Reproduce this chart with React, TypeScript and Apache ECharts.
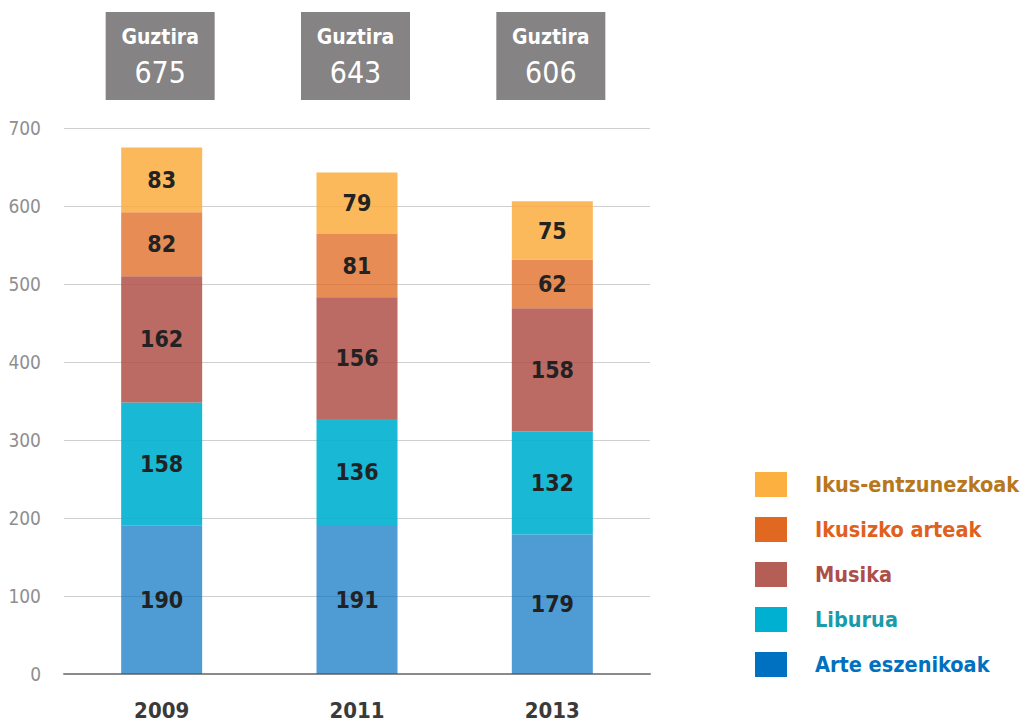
import React, { useEffect, useRef } from "react";
import * as echarts from "echarts";

const years = ["2009", "2011", "2013"];
const arteEszenikoak = [190, 191, 179];
const liburua = [158, 136, 132];
const musika = [162, 156, 158];
const ikusizkoArteak = [82, 81, 62];
const ikusEntzunezkoak = [83, 79, 75];
const totals = [675, 643, 606];
const yTicks = [0, 100, 200, 300, 400, 500, 600, 700];

const FONT = "'Liberation Sans Narrow', 'DejaVu Sans Condensed', 'Roboto', sans-serif";

const seriesDefs = [
  { name: "Arte eszenikoak", data: arteEszenikoak, bar: "rgba(0,112,192,0.69)", color: "#0070c0", text: "#0070c0" },
  { name: "Liburua", data: liburua, bar: "rgba(0,176,208,0.9)", color: "#00b0d0", text: "#1a9aaa" },
  { name: "Musika", data: musika, bar: "rgba(176,82,74,0.86)", color: "#b55e55", text: "#ad4e48" },
  { name: "Ikusizko arteak", data: ikusizkoArteak, bar: "rgba(224,104,32,0.76)", color: "#e06820", text: "#e06020" },
  { name: "Ikus-entzunezkoak", data: ikusEntzunezkoak, bar: "rgba(251,170,55,0.82)", color: "#fbb040", text: "#b8771a" },
];

export default function App() {
  const ref = useRef<HTMLDivElement>(null);
  useEffect(() => {
    document.body.style.margin = "0";
    if (!ref.current) return;
    const chart = echarts.init(ref.current, null, { renderer: "svg" });
    chart.setOption({
      animation: false,
      grid: { left: 64, right: 375, top: 128, bottom: 50 },
      xAxis: {
        type: "category",
        data: years,
        axisLine: { lineStyle: { color: "#8a8a8a", width: 2 } },
        axisTick: { show: false },
        axisLabel: { color: "#3a3a3a", fontSize: 22, fontWeight: "bold", fontFamily: FONT, margin: 25 },
      },
      yAxis: {
        type: "value",
        min: yTicks[0],
        max: yTicks[yTicks.length - 1],
        interval: 100,
        axisLine: { show: false },
        axisTick: { show: false },
        splitLine: { lineStyle: { color: "#cfcfcf", width: 1 } },
        axisLabel: { color: "#8f8f8f", fontSize: 19, fontFamily: FONT, margin: 23 },
      },
      legend: {
        orient: "vertical",
        left: 750,
        top: 467,
        itemWidth: 32,
        itemHeight: 25,
        itemGap: 20,
        icon: "rect",
        data: [...seriesDefs].reverse().map((s) => ({
          name: s.name,
          itemStyle: { color: s.color, opacity: 1 },
          textStyle: {
            color: s.text,
            fontSize: 21.5,
            lineHeight: 25,
            fontFamily: FONT,
            fontWeight: "bold",
            padding: [0, 0, 0, 23],
          },
        })),
      },
      series: seriesDefs.map((s) => ({
        name: s.name,
        type: "bar",
        stack: "total",
        data: s.data,
        barWidth: 81,
        itemStyle: { color: s.bar },
        label: {
          show: true,
          position: "inside",
          color: "#222",
          fontSize: 23,
          fontWeight: "bold",
          fontFamily: FONT,
        },
      })),
    });
    const graphics: any[] = [];
    years.forEach((y, i) => {
      const px = chart.convertToPixel({ xAxisIndex: 0 }, y) as number;
      graphics.push({
        type: "rect",
        shape: { x: px - 56, y: 12, width: 109, height: 88 },
        style: { fill: "#858383" },
      });
      graphics.push({
        type: "text",
        x: px - 1.5,
        y: 37,
        style: { text: "Guztira", fill: "#fff", fontSize: 21, fontWeight: "bold", fontFamily: FONT, align: "center", verticalAlign: "middle" },
      });
      graphics.push({
        type: "text",
        x: px - 1.5,
        y: 72,
        style: { text: String(totals[i]), fill: "#fff", fontSize: 30, fontFamily: FONT, align: "center", verticalAlign: "middle" },
      });
    });
    chart.setOption({ graphic: graphics });
    return () => chart.dispose();
  }, []);
  return <div ref={ref} style={{ width: 1025, height: 724 }} />;
}
